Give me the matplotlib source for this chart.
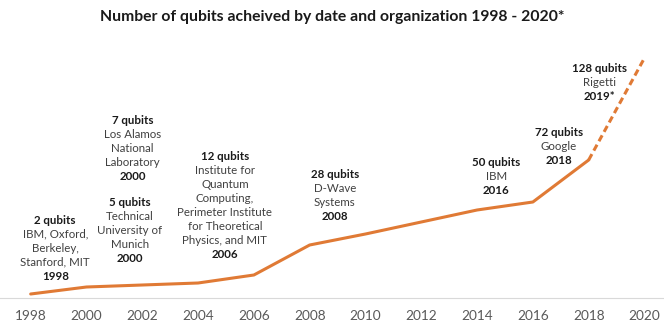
import matplotlib
matplotlib.use("Agg")
import matplotlib.pyplot as plt

plt.rcParams["font.family"] = ["Lato", "DejaVu Sans"]

# -------------------------
# data
# -------------------------
years = [1998, 2000, 2002, 2004, 2006, 2008, 2010, 2012, 2014, 2016, 2018, 2020]
qubit_line = [2, 5.5, 6.5, 7.5, 11.5, 26.5, 32, 38, 44, 48, 69, 120]
tick_years = [1998, 2000, 2002, 2004, 2006, 2008, 2010, 2012, 2014, 2016, 2018, 2020]

qubit_labels = ["2 qubits", "7 qubits", "5 qubits", "12 qubits",
                "28 qubits", "50 qubits", "72 qubits", "128 qubits"]
org_labels = [
    ["IBM, Oxford,", "Berkeley,", "Stanford, MIT"],
    ["Los Alamos", "National", "Laboratory"],
    ["Technical", "University of", "Munich"],
    ["Institute for", "Quantum", "Computing,", "Perimeter Institute",
     "for Theoretical", "Physics, and MIT"],
    ["D-Wave", "Systems"],
    ["IBM"],
    ["Google"],
    ["Rigetti"],
]
year_labels = ["1998", "2000", "2000", "2006", "2008", "2016", "2018", "2019*"]

# label block anchors (x in years, y of first line)
label_pos = [(1998.88, 39), (2001.65, 88.5), (2001.55, 48), (2004.96, 70.5),
             (2008.90, 61.5), (2014.69, 68), (2016.93, 82.5), (2018.39, 114.5)]

ORANGE = "#E07A35"
DARK = "#1a1a1a"
GRAY = "#404040"

fig = plt.figure(figsize=(6.64, 3.22), dpi=100)
ax = fig.add_axes([0, 24 / 322, 1, 298 / 322])

# solid up to 2018, dashed to 2020
ax.plot(years[:-1], qubit_line[:-1], color=ORANGE, lw=2.2, solid_capstyle="round")
ax.plot(years[-2:], qubit_line[-2:], color=ORANGE, lw=2.2, ls=(0, (2.2, 1.3)))

ax.set_xlim(1996.90, 2020.70)
ax.set_ylim(0, 149)

for s in ["top", "left", "right"]:
    ax.spines[s].set_visible(False)
ax.spines["bottom"].set_color("#d9d9d9")
ax.set_yticks([])
ax.set_xticks(tick_years)
ax.set_xticklabels([str(y) for y in tick_years])
ax.tick_params(axis="x", length=0, pad=9, labelsize=9.8, labelcolor="#595959")
ax.patch.set_alpha(0)

step = 7.0
for (x, y), q, orgs, yr in zip(label_pos, qubit_labels, org_labels, year_labels):
    ax.text(x, y, q, ha="center", va="center", fontsize=8.3,
            fontweight="bold", color=DARK)
    for i, line in enumerate(orgs):
        ax.text(x, y - step * (i + 1), line, ha="center", va="center",
                fontsize=8.3, color=GRAY)
    ax.text(x, y - step * (len(orgs) + 1), yr, ha="center", va="center",
            fontsize=8.3, fontweight="bold", color=DARK)

fig.text(0.5, 1 - 17 / 322, "Number of qubits acheived by date and organization 1998 - 2020*",
         ha="center", va="center", fontsize=11.3, fontweight="bold", color=DARK)

fig.savefig("out.png", dpi=100)
